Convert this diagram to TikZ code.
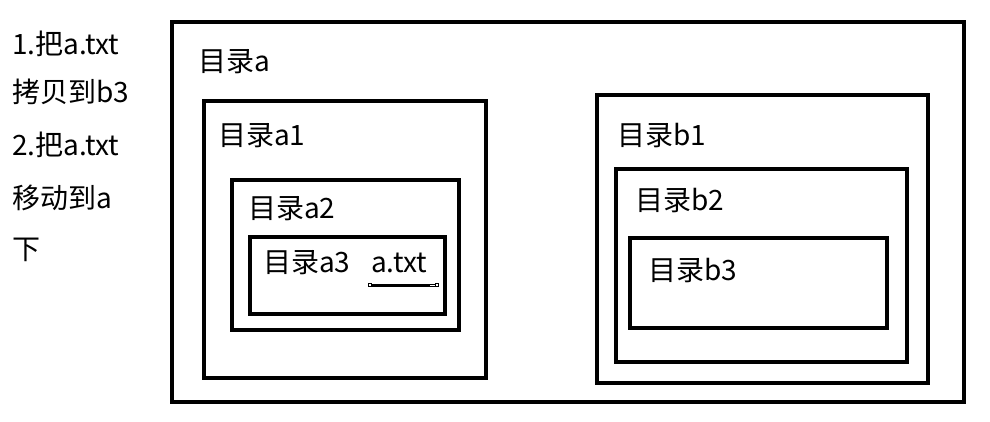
\documentclass[tikz,border=0pt]{standalone}
\usepackage{fontspec}
\setmainfont{Noto Sans CJK SC}
\begin{document}
\begin{tikzpicture}[x=1pt,y=-1pt,
  box/.style={draw,line width=4pt},
  lbl/.style={anchor=west,inner sep=0pt,font=\fontsize{28}{28}\selectfont}]
\useasboundingbox (0,0) rectangle (990,421);
\draw[box] (172,22) rectangle (964,402);
\draw[box] (204,101) rectangle (486,378);
\draw[box] (232,180) rectangle (459,330);
\draw[box] (250,237) rectangle (445,314);
\draw[box] (597,95) rectangle (928,383);
\draw[box] (616,169) rectangle (907,362);
\draw[box] (630,238) rectangle (887,328);
\node[lbl] (t1) at (12,44) {1.把a.txt};
\node[lbl] (t2) at (12,92) {拷贝到b3};
\node[lbl] (t3) at (12,145) {2.把a.txt};
\node[lbl] (t4) at (12,198) {移动到a};
\node[lbl] (t5) at (12,250) {下};
\node[lbl] (la) at (198,62) {目录a};
\node[lbl] (la1) at (218,136) {目录a1};
\node[lbl] (la2) at (248,209) {目录a2};
\node[lbl] (la3) at (263,263) {目录a3};
\node[lbl] (ltxt) at (371,263) {a.txt};
\node[lbl] (lb1) at (617,135) {目录b1};
\node[lbl] (lb2) at (635,200) {目录b2};
\node[lbl] (lb3) at (648,270) {目录b3};
\draw[line width=0.5pt] (369,284) rectangle (438,286);
\draw[line width=3pt] (372,285) -- (402,285);
\draw[line width=2pt] (402,285) -- (430,285);
\draw[line width=0.5pt,fill=white] (368,283.5) rectangle (371,286.5);
\draw[line width=0.5pt,fill=white] (435,283.5) rectangle (438,286.5);
\end{tikzpicture}
\end{document}
